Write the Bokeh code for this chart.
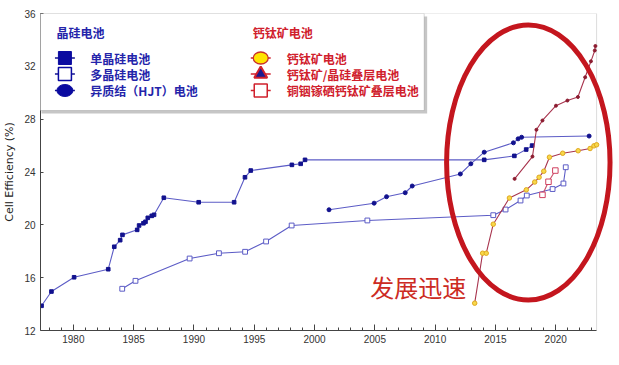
from bokeh.plotting import figure
from bokeh.models import FixedTicker, BoxAnnotation, Label, Range1d
from bokeh.embed import file_html
from bokeh.resources import INLINE
from bokeh.core.properties import value

# ---------------- data ----------------
mono_year = [1977.36, 1978.18, 1980.06, 1982.89, 1983.39, 1983.88, 1984.07, 1985.29, 1985.45,
             1985.81, 1985.98, 1986.17, 1986.50, 1986.69, 1987.50, 1990.39, 1993.33, 1994.23,
             1994.71, 1998.12, 1998.85, 1999.21, 2014.07, 2016.57, 2017.55, 2018.04]
mono_eff = [13.87, 14.95, 16.03, 16.64, 18.34, 18.84, 19.24, 19.62, 19.95,
            20.12, 20.23, 20.53, 20.68, 20.76, 22.05, 21.71, 21.71, 23.60,
            24.11, 24.54, 24.62, 24.92, 24.92, 25.22, 25.70, 26.00]

multi_year = [1984.05, 1985.15, 1989.64, 1992.07, 1994.24, 1995.98, 1998.10, 2004.38,
              2014.82, 2015.84, 2017.08, 2017.60, 2019.74, 2020.64, 2020.83]
multi_eff = [15.16, 15.76, 17.45, 17.85, 17.96, 18.74, 19.95, 20.33,
             20.73, 21.16, 21.84, 22.22, 22.71, 23.13, 24.36]

hjt_year = [2001.20, 2004.94, 2005.97, 2007.52, 2008.10, 2012.09, 2012.96, 2014.07,
            2016.49, 2016.88, 2017.17, 2022.77]
hjt_eff = [21.14, 21.64, 22.13, 22.43, 22.94, 23.85, 24.62, 25.50,
           26.21, 26.51, 26.63, 26.72]

pvk_year = [2013.28, 2013.94, 2014.24, 2014.82, 2016.16, 2017.56, 2018.26, 2018.62,
            2019.01, 2019.48, 2020.58, 2021.86, 2022.85, 2023.17, 2023.39]
pvk_eff = [14.07, 17.85, 17.85, 20.05, 22.03, 22.65, 23.24, 23.60,
           24.06, 25.12, 25.42, 25.61, 25.78, 25.98, 26.06]

pvk_si_year = [2016.59, 2018.07, 2018.40, 2018.90, 2020.02, 2020.97, 2021.84, 2022.44,
               2022.92, 2023.24, 2023.29]
pvk_si_eff = [23.48, 25.17, 27.20, 27.90, 29.02, 29.41, 29.68, 31.17,
              32.38, 33.20, 33.54]

cigs_pvk_year = [2018.90, 2019.40, 2019.97]
cigs_pvk_eff = [22.27, 23.26, 24.11]

x_major_ticks = [1980, 1985, 1990, 1995, 2000, 2005, 2010, 2015, 2020]
x_minor_ticks = list(range(1978, 2024))
y_ticks = [12, 16, 20, 24, 28, 32, 36]

group_si = "晶硅电池"
group_pvk = "钙钛矿电池"
si_labels = ["单晶硅电池", "多晶硅电池", "异质结（HJT）电池"]
pvk_labels = ["钙钛矿电池", "钙钛矿/晶硅叠层电池", "铜铟镓硒钙钛矿叠层电池"]
callout = "发展迅速"

# ---------------- layout ----------------
W, H = 619, 365
FRAME_LEFT, FRAME_TOP, FRAME_BOTTOM = 38, 13, 330
PX_PER_YEAR = 12.1
X_START = 1980 - (71 - FRAME_LEFT) / PX_PER_YEAR
X_END = X_START + (W - FRAME_LEFT) / PX_PER_YEAR
X_BORDER = X_START + (596 - FRAME_LEFT) / PX_PER_YEAR
Y_MIN, Y_MAX = 12, 36
PX_PER_PCT = (FRAME_BOTTOM - FRAME_TOP) / (Y_MAX - Y_MIN)


def px_x(px):
    return X_START + (px - FRAME_LEFT) / PX_PER_YEAR


def py_y(py):
    return Y_MIN + (FRAME_BOTTOM - py) / PX_PER_PCT


SI_LINE = "#5c5cc6"
NAVY = "#12128e"
PVK_LINE = "#a8344e"
RED = "#d0202c"
CJK = "Noto Sans CJK SC"

p = figure(width=W, height=H, output_backend="svg", toolbar_location=None, title=None,
           x_range=Range1d(X_START, X_END), y_range=Range1d(Y_MIN, Y_MAX),
           min_border_left=FRAME_LEFT, min_border_right=0, min_border_top=FRAME_TOP,
           min_border_bottom=H - FRAME_BOTTOM)
p.grid.visible = False
p.outline_line_color = None
p.background_fill_color = "white"
p.border_fill_color = "white"

# axes
xa = p.xaxis[0]
xa.ticker = FixedTicker(ticks=x_major_ticks, minor_ticks=x_minor_ticks)
xa.bounds = (X_START, X_BORDER)
xa.major_tick_in = 6
xa.major_tick_out = 0
xa.minor_tick_in = 3
xa.minor_tick_out = 0
xa.major_label_standoff = 4
xa.axis_line_color = "#444444"
xa.major_tick_line_color = "#444444"
xa.minor_tick_line_color = "#444444"
xa.major_label_text_font = "Liberation Sans"
xa.major_label_text_font_size = "10px"
xa.major_label_text_color = "#333333"

ya = p.yaxis[0]
ya.ticker = FixedTicker(ticks=y_ticks, minor_ticks=[])
ya.major_tick_in = 3
ya.major_tick_out = 0
ya.major_label_standoff = 5
ya.axis_line_color = "#444444"
ya.major_tick_line_color = "#444444"
ya.major_label_text_font = "Liberation Sans"
ya.major_label_text_font_size = "10px"
ya.major_label_text_color = "#333333"
ya.axis_label = "Cell Efficiency (%)"
ya.axis_label_text_font = "DejaVu Sans"
ya.axis_label_text_font_size = "11px"
ya.axis_label_text_font_style = "normal"
ya.axis_label_text_color = "#222222"
ya.axis_label_standoff = 5

# plot border (top / right)
p.add_layout(BoxAnnotation(left=X_START, right=X_BORDER, bottom=Y_MIN, top=Y_MAX,
                           fill_alpha=0, line_color="#8a8a8a", line_width=1, level="underlay"))

# ---------------- series ----------------
p.line(mono_year, mono_eff, line_color=SI_LINE, line_width=1.1)
p.scatter(mono_year, mono_eff, marker="square", size=3.6, fill_color=NAVY, line_color=NAVY)

p.line(multi_year, multi_eff, line_color=SI_LINE, line_width=1.1)
p.scatter(multi_year, multi_eff, marker="square", size=4.8, fill_color="white",
          line_color=SI_LINE, line_width=1)

p.line(hjt_year, hjt_eff, line_color=SI_LINE, line_width=1.1)
p.scatter(hjt_year, hjt_eff, marker="circle", size=4, fill_color=NAVY, line_color=NAVY)

p.line(pvk_year, pvk_eff, line_color=PVK_LINE, line_width=1.1)
p.scatter(pvk_year, pvk_eff, marker="circle", size=4.5, fill_color="#f7d84a",
          line_color="#e0a820", line_width=1)

p.line(pvk_si_year, pvk_si_eff, line_color=PVK_LINE, line_width=1.1)
p.scatter(pvk_si_year, pvk_si_eff, marker="circle", size=3, fill_color="#8c1c30",
          line_color="#8c1c30")

p.line(cigs_pvk_year, cigs_pvk_eff, line_color="#c8506a", line_width=1.1)
p.scatter(cigs_pvk_year, cigs_pvk_eff, marker="square", size=5.5, fill_color="white",
          line_color="#d04060", line_width=1)

# ---------------- callout ellipse + text ----------------
p.ellipse(x=[px_x(527.5)], y=[py_y(162)], width=[164 / PX_PER_YEAR], height=[275 / PX_PER_PCT],
          fill_color=None, line_color="#c4161e", line_width=5)
p.add_layout(Label(x=px_x(417), y=py_y(286), text=callout, text_font=CJK,
                   text_font_size="24px", text_color="#cc2a22", text_align="center",
                   text_baseline="middle"))

# ---------------- legend (manual) ----------------
p.add_layout(BoxAnnotation(left=px_x(39), right=px_x(426), top=py_y(16), bottom=py_y(113),
                           fill_color="#a0a0a0", fill_alpha=0.6, line_alpha=0))
p.add_layout(BoxAnnotation(left=px_x(36), right=px_x(423), top=py_y(13), bottom=py_y(110),
                           fill_color="white", fill_alpha=1, line_color="#7a7a7a", line_width=1))

rows_py = [57.5, 73.5, 90]
L_MARK, L_TEXT = 62.5, 88
R_MARK, R_TEXT = 259, 285
STUB = 10
BLUE_TXT = "#2424aa"

p.add_layout(Label(x=px_x(54), y=py_y(32), text=group_si, text_font=CJK, text_font_size="12px",
                   text_font_style="bold", text_color=BLUE_TXT, text_baseline="middle",
                   level="overlay"))
p.add_layout(Label(x=px_x(251), y=py_y(32), text=group_pvk, text_font=CJK, text_font_size="12px",
                   text_font_style="bold", text_color=RED, text_baseline="middle",
                   level="overlay"))

for i, lab in enumerate(si_labels):
    p.add_layout(Label(x=px_x(L_TEXT), y=py_y(rows_py[i]), text=lab, text_font=CJK,
                       text_font_size="12px", text_font_style="bold", text_color=BLUE_TXT,
                       text_baseline="middle", level="overlay"))
for i, lab in enumerate(pvk_labels):
    p.add_layout(Label(x=px_x(R_TEXT), y=py_y(rows_py[i]), text=lab, text_font=CJK,
                       text_font_size="12px", text_font_style="bold", text_color=RED,
                       text_baseline="middle", level="overlay"))

ly = [py_y(v) for v in rows_py]
p.segment(x0=[px_x(L_MARK - STUB)] * 3, x1=[px_x(L_MARK + STUB)] * 3, y0=ly, y1=ly,
          line_color=NAVY, line_width=1.5, level="overlay")
p.segment(x0=[px_x(R_MARK - STUB)] * 3, x1=[px_x(R_MARK + STUB)] * 3, y0=ly, y1=ly,
          line_color=RED, line_width=1.5, level="overlay")

p.scatter([px_x(L_MARK)], [ly[0]], marker="square", size=13, fill_color="#0a0aa0",
          line_color="#0a0aa0", level="overlay")
p.scatter([px_x(L_MARK)], [ly[1]], marker="square", size=13, fill_color="white",
          line_color="#0a0aa0", line_width=1.5, level="overlay")
p.ellipse([px_x(L_MARK)], [ly[2]], width=16, height=12, width_units="screen",
          height_units="screen", fill_color="#0a0aa0", line_color="#0a0aa0", level="overlay")

p.ellipse([px_x(R_MARK)], [ly[0]], width=15, height=12, width_units="screen",
          height_units="screen", fill_color="#ffe400", line_color="#c8302a", line_width=1.3,
          level="overlay")
p.scatter([px_x(R_MARK)], [ly[1]], marker="triangle", size=13, fill_color="#1a1a90",
          line_color=RED, line_width=2, level="overlay")
p.scatter([px_x(R_MARK)], [ly[2]], marker="square", size=13, fill_color="white",
          line_color=RED, line_width=1.5, level="overlay")

open("out.html", "w").write(file_html(p, INLINE))
